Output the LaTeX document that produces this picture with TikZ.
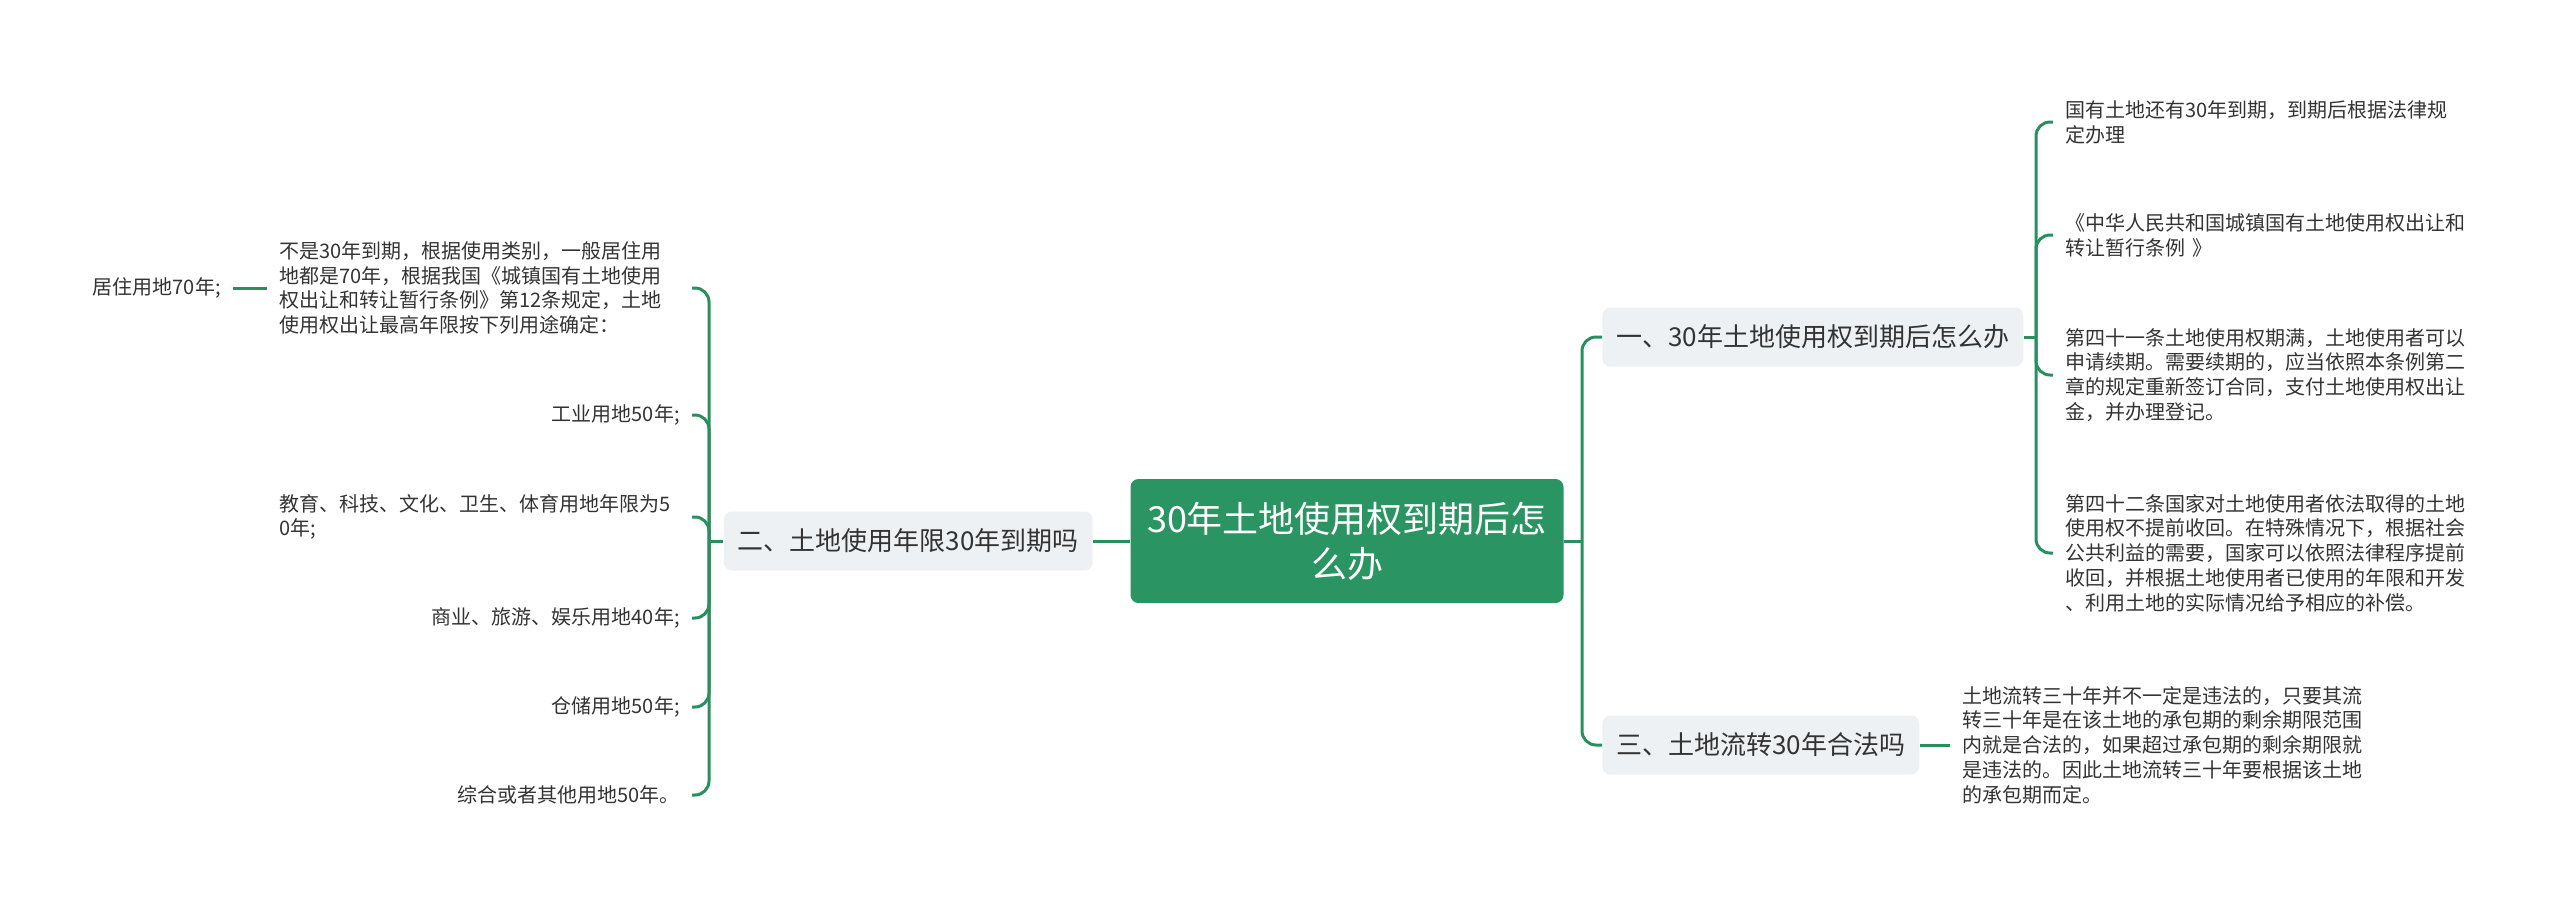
\documentclass[tikz,border=0pt]{standalone}
\usepackage{fontspec}
\newfontfamily\cjk{Noto Sans CJK SC}
\usetikzlibrary{positioning}
\definecolor{linkgreen}{HTML}{2A8F5E}
\definecolor{rootgreen}{HTML}{2A9462}
\definecolor{topicgray}{HTML}{EEF1F4}
\definecolor{textgray}{HTML}{333333}
\tikzset{>=latex}

\begin{document}
\begin{tikzpicture}[x=0.5pt, y=-0.5pt, node distance=18.5pt, font=\cjk,
		root/.style={fill=rootgreen, text=white, rounded corners=4pt, minimum width=216.5pt, minimum height=62pt, align=center, font=\cjk\fontsize{18pt}{22.5pt}\selectfont},
		topic/.style={fill=topicgray, text=textgray, rounded corners=4pt, minimum height=29.5pt, inner xsep=7pt, font=\cjk\fontsize{13pt}{16pt}\selectfont},
		leaf/.style={text=textgray, inner xsep=6pt, inner ysep=0pt, font=\cjk\fontsize{10pt}{12.4pt}\selectfont},
		link/.style={draw=linkgreen, line width=1.5pt, rounded corners=7pt}]
		\useasboundingbox (0,0) rectangle (2560,906);

		\node[root] (main) at (1347,541) {30年土地使用权到期后怎\\么办};
		\node[topic,left=of main] (term) {二、土地使用年限30年到期吗};
		\node[topic,anchor=west] (expire) at (1602,337) {一、30年土地使用权到期后怎么办};
		\node[topic,anchor=west] (transfer) at (1602,745) {三、土地流转30年合法吗};

		% left side
		\node[leaf,anchor=east,text width=200pt,align=left] (category) at (692,288) {不是30年到期，根据使用类别，一般居住用\\地都是70年，根据我国《城镇国有土地使用\\权出让和转让暂行条例》第12条规定，土地\\使用权出让最高年限按下列用途确定：};
		\node[leaf,anchor=east] (residential) at (233,288) {居住用地70年;};
		\node[leaf,anchor=east] (industrial) at (692,415) {工业用地50年;};
		\node[leaf,anchor=east,text width=200pt,align=left] (education) at (692,517) {教育、科技、文化、卫生、体育用地年限为5\\0年;};
		\node[leaf,anchor=east] (commerce) at (692,618) {商业、旅游、娱乐用地40年;};
		\node[leaf,anchor=east] (storage) at (692,707) {仓储用地50年;};
		\node[leaf,anchor=east] (other) at (692,795) {综合或者其他用地50年。};

		% right side
		\node[leaf,anchor=west,text width=202pt,align=left] (renew) at (2053,122) {国有土地还有30年到期，到期后根据法律规\\定办理};
		\node[leaf,anchor=west,text width=202pt,align=left] (regs) at (2053,235) {《中华人民共和国城镇国有土地使用权出让和\\转让暂行条例 》};
		\node[leaf,anchor=west,text width=202pt,align=left] (art41) at (2053,375) {第四十一条土地使用权期满，土地使用者可以\\申请续期。需要续期的，应当依照本条例第二\\章的规定重新签订合同，支付土地使用权出让\\金，并办理登记。};
		\node[leaf,anchor=west,text width=202pt,align=left] (art42) at (2053,553) {第四十二条国家对土地使用者依法取得的土地\\使用权不提前收回。在特殊情况下，根据社会\\公共利益的需要，国家可以依照法律程序提前\\收回，并根据土地使用者已使用的年限和开发\\、利用土地的实际情况给予相应的补偿。};
		\node[leaf,anchor=west,text width=202pt,align=left] (legal) at (1950,745) {土地流转三十年并不一定是违法的，只要其流\\转三十年是在该土地的承包期的剩余期限范围\\内就是合法的，如果超过承包期的剩余期限就\\是违法的。因此土地流转三十年要根据该土地\\的承包期而定。};

		\coordinate (mainR) at (1582,541);
		\coordinate (mainL) at (709,541);
		\coordinate (expireR) at (2036,337);

		\draw[link] (main.east) -- (mainR);
		\draw[link] (expire.west) -| (mainR) |- (transfer.west);
		\draw[link] (main.west) -- (term.east);

		\draw[link] (term.west) -- (mainL);
		\draw[link] (category.east) -| (mainL) |- (other.east);
		\draw[link] (industrial.east) -| (mainL);
		\draw[link] (education.east) -| (mainL);
		\draw[link] (commerce.east) -| (mainL);
		\draw[link] (storage.east) -| (mainL);
		\draw[link] (residential.east) -- (category.west);

		\draw[link] (expire.east) -- (expireR);
		\draw[link] (renew.west) -| (expireR) |- (art42.west);
		\draw[link] (regs.west) -| (expireR);
		\draw[link] (art41.west) -| (expireR);

		\draw[link] (transfer.east) -- (legal.west);
	\end{tikzpicture}
\end{document}
